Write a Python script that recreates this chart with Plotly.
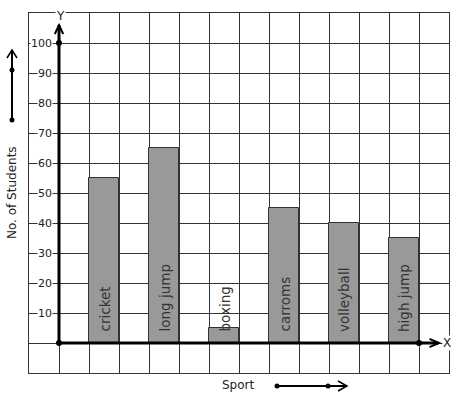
import plotly.graph_objects as go

# ---- data ----
sports = ["cricket", "long jump", "boxing", "carroms", "volleyball", "high jump"]
students = [55, 65, 5, 45, 40, 35]
bar_x = [1.5, 3.5, 5.5, 7.5, 9.5, 11.5]
y_tick_vals = [10, 20, 30, 40, 50, 60, 70, 80, 90, 100]
y_tick_text = ["10", "20", "30", "40", "50", "60", "70", "80", "90", "100"]

W, H = 457, 399
ML, MR, MT, MB = 29, 8, 13, 26
PW, PH = W - ML - MR, H - MT - MB


def px(x):
    return (x - ML) / PW


def py(y):
    return (H - MB - y) / PH


FONT = "DejaVu Sans"
fig = go.Figure()

fig.add_trace(go.Bar(
    x=bar_x, y=students, width=1,
    marker=dict(color="#999999", line=dict(color="#333333", width=1)),
    hoverinfo="skip", showlegend=False,
))

# dots on axes
fig.add_trace(go.Scatter(
    x=[0, 0, 12], y=[0, 100, 0], mode="markers",
    marker=dict(color="black", size=6), cliponaxis=False,
    showlegend=False, hoverinfo="skip",
))

shapes = []
# Y axis with open arrowhead
shapes.append(dict(type="line", xref="x", yref="y", x0=0, y0=0, x1=0, y1=106,
                   line=dict(color="black", width=3)))
shapes.append(dict(type="path", xref="x", yref="y",
                   path="M -0.14,103 L 0,106 L 0.14,103",
                   line=dict(color="black", width=2)))
# X axis with open arrowhead
shapes.append(dict(type="line", xref="x", yref="y", x0=0, y0=0, x1=12.65, y1=0,
                   line=dict(color="black", width=3)))
shapes.append(dict(type="path", xref="x", yref="y",
                   path="M 12.35,1.4 L 12.67,0 L 12.35,-1.4",
                   line=dict(color="black", width=2)))

# left decorative arrow (students direction)
shapes.append(dict(type="line", xref="paper", yref="paper",
                   x0=px(12), y0=py(120), x1=px(12), y1=py(50),
                   line=dict(color="black", width=2)))
shapes.append(dict(type="path", xref="paper", yref="paper",
                   path=f"M {px(7)},{py(58)} L {px(12)},{py(50)} L {px(17)},{py(58)}",
                   line=dict(color="black", width=1.5)))
for yy in (120, 70):
    shapes.append(dict(type="circle", xref="paper", yref="paper",
                       x0=px(9.5), x1=px(14.5), y0=py(yy - 2.5), y1=py(yy + 2.5),
                       fillcolor="black", line=dict(color="black", width=0)))

# bottom decorative arrow (sport direction)
shapes.append(dict(type="line", xref="paper", yref="paper",
                   x0=px(277), y0=py(386), x1=px(346), y1=py(386),
                   line=dict(color="black", width=2)))
shapes.append(dict(type="path", xref="paper", yref="paper",
                   path=f"M {px(338)},{py(381)} L {px(347)},{py(386)} L {px(338)},{py(391)}",
                   line=dict(color="black", width=1.5)))
for xx in (277, 328):
    shapes.append(dict(type="circle", xref="paper", yref="paper",
                       x0=px(xx - 2.5), x1=px(xx + 2.5), y0=py(386 - 2.5), y1=py(386 + 2.5),
                       fillcolor="black", line=dict(color="black", width=0)))

annotations = []
for v, t in zip(y_tick_vals, y_tick_text):
    annotations.append(dict(x=-0.2, y=v, xref="x", yref="y", text=t, showarrow=False,
                            xanchor="right", yanchor="middle", bgcolor="white", borderpad=0,
                            font=dict(family=FONT, size=11, color="#222222")))
for xv, s in zip(bar_x, sports):
    annotations.append(dict(x=xv, y=0, xref="x", yref="y", text=s, showarrow=False,
                            textangle=-90, xanchor="center", yanchor="bottom", yshift=9,
                            font=dict(family=FONT, size=13.5, color="#333333")))
annotations.append(dict(x=0.05, y=1, xref="x", yref="paper", text="Y", showarrow=False,
                        xanchor="center", yanchor="middle", bgcolor="white", borderpad=0,
                        yshift=-3, font=dict(family=FONT, size=12, color="#222222")))
annotations.append(dict(x=12.93, y=0, xref="x", yref="y", text="X", showarrow=False,
                        xanchor="center", yanchor="middle", bgcolor="white", borderpad=0,
                        font=dict(family=FONT, size=12, color="#222222")))
annotations.append(dict(x=px(12), y=py(193), xref="paper", yref="paper",
                        text="No. of Students", showarrow=False, textangle=-90,
                        xanchor="center", yanchor="middle",
                        font=dict(family=FONT, size=12, color="#222222")))
annotations.append(dict(x=px(238), y=py(385), xref="paper", yref="paper",
                        text="Sport", showarrow=False,
                        xanchor="center", yanchor="middle",
                        font=dict(family=FONT, size=12, color="#222222")))

fig.update_layout(
    width=W, height=H,
    margin=dict(l=ML, r=MR, t=MT, b=MB, pad=0),
    paper_bgcolor="white", plot_bgcolor="white",
    shapes=shapes, annotations=annotations,
    xaxis=dict(range=[-1, 13], tick0=-1, dtick=1, showgrid=True, gridcolor="#333333",
               gridwidth=1, zeroline=False, showticklabels=False, ticks="",
               showline=True, mirror=True, linecolor="#333333", linewidth=1,
               fixedrange=True),
    yaxis=dict(range=[-10, 110], tick0=-10, dtick=10, showgrid=True, gridcolor="#333333",
               gridwidth=1, zeroline=False, showticklabels=False, ticks="",
               showline=True, mirror=True, linecolor="#333333", linewidth=1,
               fixedrange=True),
    showlegend=False,
    bargap=0,
)

fig.write_html("out.html", config={"displayModeBar": False},
               post_script="document.body.style.margin='0';document.body.style.overflow='hidden';")
